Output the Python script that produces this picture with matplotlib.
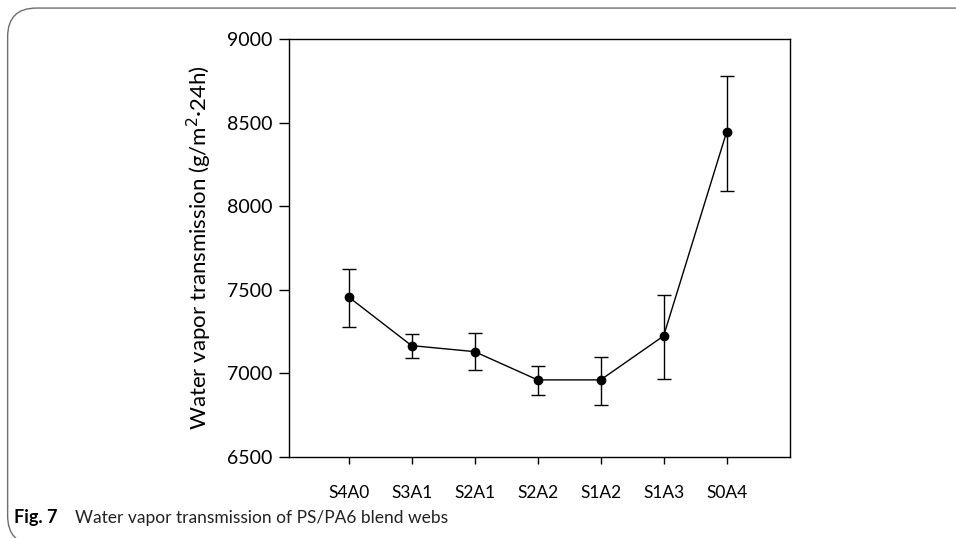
import matplotlib
matplotlib.use("Agg")
import matplotlib.pyplot as plt
from matplotlib.patches import FancyBboxPatch

# ==========================================
# DATA
# ==========================================

samples = ["S4A0", "S3A1", "S2A1", "S2A2", "S1A2", "S1A3", "S0A4"]
wvt = [7457, 7166, 7130, 6961, 6961, 7224, 8444]
err_low = [7280, 7094, 7019, 6873, 6813, 6965, 8093]
err_high = [7624, 7234, 7240, 7046, 7100, 7471, 8781]

y_ticks = [6500, 7000, 7500, 8000, 8500, 9000]

# ==========================================
# PLOT
# ==========================================

plt.rcParams["font.family"] = ["Lato", "DejaVu Sans"]

fig = plt.figure(figsize=(9.56, 5.38), dpi=100)

# rounded frame around the figure (bottom edge falls just below the image)
frame = FancyBboxPatch(
    (0.008, -0.012), 1.2, 0.997,
    boxstyle="round,pad=0,rounding_size=0.03",
    transform=fig.transFigure,
    facecolor="none",
    edgecolor="#6e6e6e",
    linewidth=1.0,
    mutation_aspect=956 / 538
)
fig.patches.append(frame)

ax = fig.add_axes([0.302, 0.1506, 0.524, 0.777])

x = list(range(1, len(samples) + 1))
lower = [v - lo for v, lo in zip(wvt, err_low)]
upper = [hi - v for v, hi in zip(wvt, err_high)]

ax.errorbar(
    x,
    wvt,
    yerr=[lower, upper],
    color="black",
    marker="o",
    markersize=6,
    linewidth=1.0,
    elinewidth=1.0,
    capsize=5,
    capthick=1.0
)

ax.set_xlim(0.05, 8)
ax.set_ylim(6500, 9000)
ax.set_yticks(y_ticks)
ax.set_yticklabels([str(t) for t in y_ticks], fontsize=14)
ax.set_xticks(x)
ax.set_xticklabels(samples, fontsize=12.5)

ax.tick_params(axis="y", direction="out", length=7, width=1, pad=5)
ax.tick_params(axis="x", direction="out", length=5, width=1, pad=15)

for s in ax.spines.values():
    s.set_linewidth(1.0)

ax.set_ylabel(
    "Water vapor transmission (g/m$^2$·24h)",
    fontsize=16,
    labelpad=9
)

fig.text(0.015, 0.028, "Fig. 7", fontsize=13, fontweight="bold", va="baseline")
fig.text(0.078, 0.028, "Water vapor transmission of PS/PA6 blend webs",
         fontsize=12.5, color="#222222", va="baseline")

fig.savefig("out.png", dpi=100)
